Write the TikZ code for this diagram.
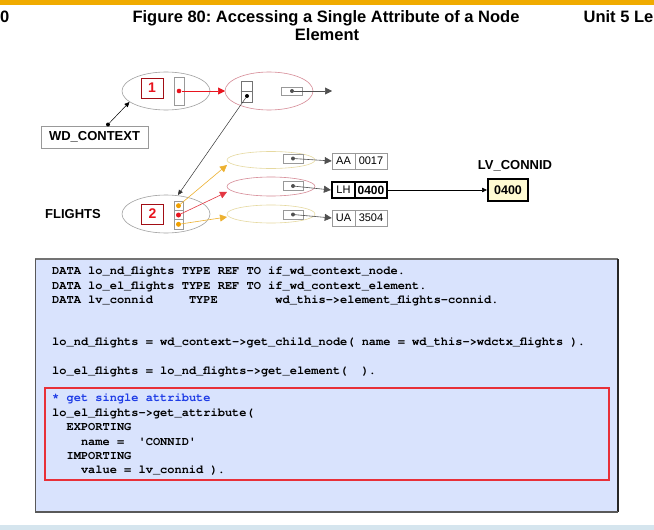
\documentclass[tikz,border=0pt]{standalone}
\usepackage{fontspec}
\setmainfont{Liberation Sans}
\setmonofont{TeX Gyre Cursor}
\usetikzlibrary{arrows.meta,shapes.geometric}
\frenchspacing
\definecolor{sapor}{HTML}{F0AB00}
\definecolor{codebg}{HTML}{D9E3FD}
\definecolor{ellgrey}{HTML}{A0A0A0}
\definecolor{ellpink}{HTML}{D68A96}
\definecolor{ellyel}{HTML}{E6D9A0}
\definecolor{dotor}{HTML}{F0A000}
\definecolor{dotred}{HTML}{E8141E}
\definecolor{cmtblue}{HTML}{1E3CE6}
\definecolor{redbox}{HTML}{E83038}
\definecolor{lvfill}{HTML}{FFFBD2}
\definecolor{arrgrey}{HTML}{505050}
\definecolor{botbar}{HTML}{D5E5EE}
\begin{document}
\begin{tikzpicture}[x=1pt,y=-1pt,
  ell/.style={ellipse, draw, inner sep=0pt, minimum width=88pt, minimum height=38pt, line width=0.6pt},
  cellbox/.style={draw=gray!80, line width=0.6pt, inner sep=0pt},
  dotmark/.style={circle, fill, inner sep=0pt, minimum size=4.6pt},
  tip/.style={-{Triangle[length=7pt,width=7pt]}},
  smalltip/.style={-{Triangle[length=5pt,width=4.5pt]}},
  recbox/.style={draw=gray!80, line width=0.6pt, inner sep=0pt, minimum height=16pt, font=\fontsize{11}{13}\selectfont},
  numbox/.style={draw=dotred!70!black, line width=0.6pt, inner sep=0pt, minimum width=22pt, minimum height=20pt, text=dotred, font=\bfseries\fontsize{14}{16}\selectfont},
  lbl/.style={inner sep=0pt, font=\bfseries\fontsize{13}{15}\selectfont},
  codeline/.style={anchor=base west, inner sep=0pt, font=\ttfamily\bfseries\fontsize{12}{14}\selectfont},
  ttl/.style={inner sep=0pt, font=\bfseries\fontsize{16.5}{18}\selectfont}
]
\useasboundingbox (0,0) rectangle (654,530);
\clip (0,0) rectangle (654,530);
\fill[white] (0,0) rectangle (654,530);
% header
\fill[sapor] (0,0) rectangle (654,4.5);
\node[ttl, anchor=base west] (hl) at (0,23) {0};
\node[ttl, anchor=base east] (hr) at (653.5,23) {Unit 5 Le};
\node[ttl, anchor=base] (t1) at (326,23) {Figure 80: Accessing a Single Attribute of a Node};
\node[ttl, anchor=base] (t2) at (327,41) {Element};
\fill[botbar] (0,525) rectangle (654,530);

% ellipses
\node[ell, draw=ellgrey] (e1) at (166,91) {};
\node[ell, draw=ellpink] (e2) at (269,91) {};
\node[ell, draw=ellgrey] (e3) at (166,214) {};
\node[ell, draw=ellyel, minimum height=17pt] (ea) at (271,160) {};
\node[ell, draw=ellpink, minimum height=19pt] (eb) at (271,186.5) {};
\node[ell, draw=ellyel, minimum height=18pt] (ec) at (271,214) {};

% node 1 contents
\node[numbox] (n1) at (152,88) {1};
\node[cellbox, minimum width=10pt, minimum height=28pt] (c1) at (179,91) {};
\node[dotmark, fill=dotred] (d1) at (179,91) {};
\coordinate (e2in) at (225,91);
\draw[dotred, line width=0.6pt, tip] (d1) -- (e2in);

% node in e2
\node[cellbox, draw=gray!90!black, minimum width=11pt, minimum height=21pt] (tb) at (246.5,91.5) {};
\draw[gray!90!black, line width=0.6pt] (tb.west) -- (tb.east);
\node[dotmark, fill=black, minimum size=4pt] (dtb) at (247,96) {};
\node[cellbox, minimum width=21pt, minimum height=8pt] (sb0) at (291.5,91) {};
\node[dotmark, fill=arrgrey, minimum size=4pt] (ds0) at (292,91) {};
\coordinate (free0) at (332,91);
\draw[arrgrey, line width=0.6pt, tip] (ds0) -- (free0);

% WD_CONTEXT
\node[draw=gray!80, line width=0.7pt, minimum width=107pt, minimum height=22pt, inner sep=0pt, font=\bfseries\fontsize{13}{15}\selectfont] (wd) at (94.5,137) {WD\_CONTEXT};
\node[dotmark, fill=black, minimum size=4pt] (dwd) at (108,124.5) {};
\coordinate (e1hit) at (129.5,102);
\draw[black, line width=0.5pt, smalltip] (dwd) -- (e1hit);

% node 2 contents
\node[numbox] (n2) at (152.5,214) {2};
\node[cellbox, minimum width=9pt, minimum height=28pt] (c2) at (178.5,215) {};
\draw[gray!80, line width=0.6pt] (174,210.3) -- (183,210.3);
\draw[gray!80, line width=0.6pt] (174,219.7) -- (183,219.7);
\node[dotmark, fill=dotor, minimum size=5pt] (da) at (178.5,205.7) {};
\node[dotmark, fill=dotred, minimum size=5pt] (db) at (178.5,215) {};
\node[dotmark, fill=dotor, minimum size=5pt] (dc) at (178.5,224.3) {};
\coordinate (c2top) at (178,195);
\draw[black!80, line width=0.5pt, smalltip] (dtb) -- (c2top);

\coordinate (eain) at (227,165);
\coordinate (ebin) at (227,192);
\coordinate (ecin) at (227,217);
\draw[dotor!70!ellyel, line width=0.6pt, tip] (da) -- (eain);
\draw[dotred!70!ellpink, line width=0.6pt, tip] (db) -- (ebin);
\draw[dotor!70!ellyel, line width=0.6pt, tip] (dc) -- (ecin);

% element references
\node[cellbox, minimum width=20pt, minimum height=9pt] (sba) at (293,158.5) {};
\node[cellbox, minimum width=20pt, minimum height=9pt] (sbb) at (293,186) {};
\node[cellbox, minimum width=20pt, minimum height=9pt] (sbc) at (293,214.5) {};
\node[dotmark, fill=arrgrey, minimum size=4pt] (dsa) at (293,158.5) {};
\node[dotmark, fill=arrgrey, minimum size=4pt] (dsb) at (293,186) {};
\node[dotmark, fill=arrgrey, minimum size=4pt] (dsc) at (293,214.5) {};

% records
\node[recbox, minimum width=23pt] (ra1) at (343.5,161) {AA};
\node[recbox, minimum width=32pt] (ra2) at (371,161) {0017};
\node[recbox, draw=black, line width=2.2pt, minimum width=23pt] (rb1) at (343.5,190) {LH};
\node[recbox, draw=black, line width=2.2pt, minimum width=32pt, font=\bfseries\fontsize{12}{14}\selectfont] (rb2) at (371,190) {0400};
\node[recbox, minimum width=23pt] (rc1) at (343.5,218) {UA};
\node[recbox, minimum width=32pt] (rc2) at (371,218) {3504};
\draw[arrgrey, line width=0.6pt, tip] (dsa) -- (ra1.west);
\draw[arrgrey, line width=0.6pt, tip] (dsb) -- (rb1.west);
\draw[arrgrey, line width=0.6pt, tip] (dsc) -- (rc1.west);

% LV_CONNID
\node[draw=black, fill=lvfill, line width=2pt, minimum width=40pt, minimum height=22pt, inner sep=0pt, font=\bfseries\fontsize{12.5}{14}\selectfont] (lv) at (508,190) {0400};
\node[lbl] (lvl) at (515,166) {LV\_CONNID};
\draw[black, line width=0.6pt, smalltip] (rb2.east) -- (lv.west);
\node[lbl] (fl) at (73,214.5) {FLIGHTS};

% code box
\fill[codebg] (35,259) rectangle (618,512);
\draw[gray!90!black, line width=1.8pt] (35,259) -- (618,259);
\draw[gray!70!black, line width=0.8pt] (35,259) -- (35,512);
\draw[black!85, line width=1.4pt] (618,259) -- (618,512);
\draw[gray!70!black, line width=1.8pt] (35,512) -- (618,512);
\draw[redbox, line width=1.5pt] (45,388) rectangle (609,480);

\node[codeline] (l1) at (52,274.5) {DATA lo\_nd\_flights TYPE REF TO if\_wd\_context\_node.};
\node[codeline] (l2) at (52,289) {DATA lo\_el\_flights TYPE REF TO if\_wd\_context\_element.};
\node[codeline] (l3) at (52,303.5) {DATA lv\_connid~~~~~TYPE~~~~~~~~wd\_this->element\_flights-connid.};
\node[codeline] (l4) at (52,345) {lo\_nd\_flights = wd\_context->get\_child\_node( name = wd\_this->wdctx\_flights ).};
\node[codeline] (l5) at (52,374) {lo\_el\_flights = lo\_nd\_flights->get\_element(~~).};
\node[codeline, text=cmtblue] (l6) at (52,401) {* get single attribute};
\node[codeline] (l7) at (52,416.5) {lo\_el\_flights->get\_attribute(};
\node[codeline] (l8) at (52,430.5) {~~EXPORTING};
\node[codeline] (l9) at (52,445) {~~~~name =~~'CONNID'};
\node[codeline] (l10) at (52,459) {~~IMPORTING};
\node[codeline] (l11) at (52,473.5) {~~~~value = lv\_connid ).};
\end{tikzpicture}
\end{document}
